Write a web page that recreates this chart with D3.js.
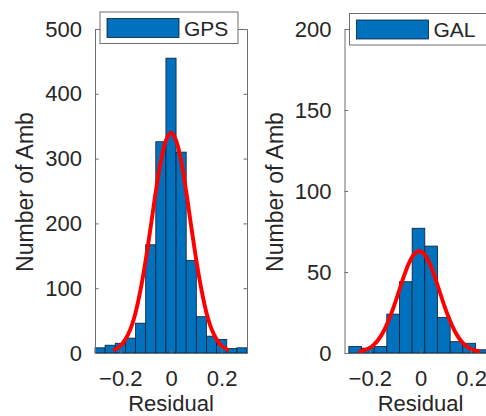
<!DOCTYPE html>
<html>
<head>
<meta charset="utf-8">
<script src="https://cdn.jsdelivr.net/npm/d3@7"></script>
<style>
  html, body { margin: 0; padding: 0; background: #fff; overflow: hidden; }
  svg { display: block; font-family: "Liberation Sans", Arial, Helvetica, sans-serif; }
</style>
</head>
<body>
<div id="chart"></div>
<script>
// --- data ---
const xTicks = [-0.2, 0, 0.2];

// GPS histogram (bin width 0.04)
const gpsBinWidth = 0.04;
const gpsCenters = [-0.28, -0.24, -0.20, -0.16, -0.12, -0.08, -0.04, 0.00, 0.04, 0.08, 0.12, 0.16, 0.20, 0.24, 0.28];
const gpsCounts  = [8, 12, 15, 23, 46, 167, 326, 455, 310, 143, 56, 26, 21, 7, 8];
const gpsYTicks  = [0, 100, 200, 300, 400, 500];
// fitted normal curve, GPS
const gpsFitX = [-0.228, -0.20, -0.18, -0.16, -0.14, -0.12, -0.10, -0.08, -0.06, -0.04, -0.02, 0.00,
                 0.02, 0.04, 0.06, 0.08, 0.10, 0.12, 0.14, 0.16, 0.18, 0.20, 0.228];
const gpsFitY = [4, 11, 21, 37, 62, 98, 143, 195, 249, 296, 328, 340,
                 328, 296, 249, 195, 143, 98, 62, 37, 21, 11, 4];

// GAL histogram (bin width 0.05)
const galBinWidth = 0.05;
const galCenters = [-0.258, -0.208, -0.158, -0.108, -0.058, -0.008, 0.042, 0.092, 0.142, 0.192, 0.242];
const galCounts  = [4, 3, 4, 24, 44, 77, 66, 22, 7, 6, 2];
const galYTicks  = [0, 50, 100, 150, 200];
// fitted normal curve, GAL
const galFitX = [-0.245, -0.205, -0.185, -0.165, -0.145, -0.125, -0.105, -0.085, -0.065, -0.045, -0.025, -0.005,
                 0.015, 0.035, 0.055, 0.075, 0.095, 0.115, 0.135, 0.155, 0.175, 0.195, 0.235];
const galFitY = [0.7, 2.8, 5.0, 8.5, 13.6, 20.5, 28.8, 38.2, 47.6, 55.6, 61.0, 63,
                 61.0, 55.6, 47.6, 38.2, 28.8, 20.5, 13.6, 8.5, 5.0, 2.8, 0.7];

// --- layout ---
const W = 486, H = 416;
const BLUE = "#0072BD", RED = "#ff0000", AXIS = "#6e6e6e", INK = "#262626";

const panels = [
  { name: "GPS", left: 95,  centers: gpsCenters, counts: gpsCounts, bw: gpsBinWidth,
    yMax: 500, yTicks: gpsYTicks, fitX: gpsFitX, fitY: gpsFitY, legendTop: 12 },
  { name: "GAL", left: 344.5, centers: galCenters, counts: galCounts, bw: galBinWidth,
    yMax: 200, yTicks: galYTicks, fitX: galFitX, fitY: galFitY, legendTop: 13.5 },
];
const plotW = 152, plotTop = 29, plotBottom = 353;

const svg = d3.select("#chart").append("svg")
  .attr("width", W).attr("height", H)
  .attr("viewBox", `0 0 ${W} ${H}`);

panels.forEach(p => {
  const x = d3.scaleLinear().domain([-0.3, 0.3]).range([p.left, p.left + plotW]);
  const y = d3.scaleLinear().domain([0, p.yMax]).range([plotBottom, plotTop]);
  const g = svg.append("g");

  // bars
  g.selectAll("rect.bar")
    .data(p.centers.map((c, i) => ({ c, n: p.counts[i] })))
    .join("rect")
    .attr("class", "bar")
    .attr("x", d => x(d.c - p.bw / 2))
    .attr("width", d => x(d.c + p.bw / 2) - x(d.c - p.bw / 2))
    .attr("y", d => y(d.n))
    .attr("height", d => y(0) - y(d.n))
    .attr("fill", BLUE)
    .attr("stroke", "#0b1f33")
    .attr("stroke-width", 0.8);

  // fitted curve
  const line = d3.line()
    .x(d => x(d[0])).y(d => y(d[1]))
    .curve(d3.curveCatmullRom);
  g.append("path")
    .datum(p.fitX.map((v, i) => [v, p.fitY[i]]))
    .attr("d", line)
    .attr("fill", "none")
    .attr("stroke", RED)
    .attr("stroke-width", 3.9)
    .attr("stroke-linejoin", "round");

  // axes (MATLAB box: ticks inward on all sides)
  const styleAxis = sel => {
    sel.selectAll("path.domain").attr("stroke", AXIS);
    sel.selectAll(".tick line").attr("stroke", AXIS);
    sel.selectAll(".tick text").attr("fill", INK).attr("font-size", 22);
  };

  g.append("g").attr("transform", `translate(0,${plotBottom})`)
    .call(d3.axisBottom(x).tickValues(xTicks).tickSizeInner(-3.5).tickSizeOuter(0)
      .tickPadding(17.5).tickFormat(d => d === 0 ? "0" : d3.format(".1f")(d)))
    .call(styleAxis)
    .call(s => s.attr("font-family", null));

  g.append("g").attr("transform", `translate(0,${plotTop})`)
    .call(d3.axisTop(x).tickValues(xTicks).tickSizeInner(-3.5).tickSizeOuter(0).tickFormat(""))
    .call(styleAxis);

  g.append("g").attr("transform", `translate(${p.left},0)`)
    .call(d3.axisLeft(y).tickValues(p.yTicks).tickSizeInner(-3.5).tickSizeOuter(0)
      .tickPadding(13).tickFormat(d3.format("d")))
    .call(styleAxis)
    .call(s => s.attr("font-family", null));

  g.append("g").attr("transform", `translate(${p.left + plotW},0)`)
    .call(d3.axisRight(y).tickValues(p.yTicks).tickSizeInner(-3.5).tickSizeOuter(0).tickFormat(""))
    .call(styleAxis);

  // axis labels
  g.append("text")
    .attr("x", x(0)).attr("y", 411)
    .attr("text-anchor", "middle")
    .attr("font-size", 22).attr("fill", INK)
    .text("Residual");

  g.append("text")
    .attr("transform", `translate(${p.left - 62},${(plotTop + plotBottom) / 2 + 1}) rotate(-90)`)
    .attr("text-anchor", "middle")
    .attr("font-size", 23).attr("fill", INK)
    .text("Number of Amb");

  // legend
  const lg = g.append("g").attr("transform", `translate(${p.left + 5},${p.legendTop})`);
  lg.append("rect")
    .attr("x", 0).attr("y", 0).attr("width", 138).attr("height", 31.5)
    .attr("fill", "#fff").attr("stroke", AXIS).attr("stroke-width", 1);
  lg.append("rect")
    .attr("x", 7).attr("y", 6.5).attr("width", 72).attr("height", 19)
    .attr("fill", BLUE).attr("stroke", "#0b1f33").attr("stroke-width", 0.8);
  lg.append("text")
    .attr("x", 84).attr("y", 23.5)
    .attr("font-size", 21).attr("fill", INK)
    .text(p.name);
});
</script>
</body>
</html>
